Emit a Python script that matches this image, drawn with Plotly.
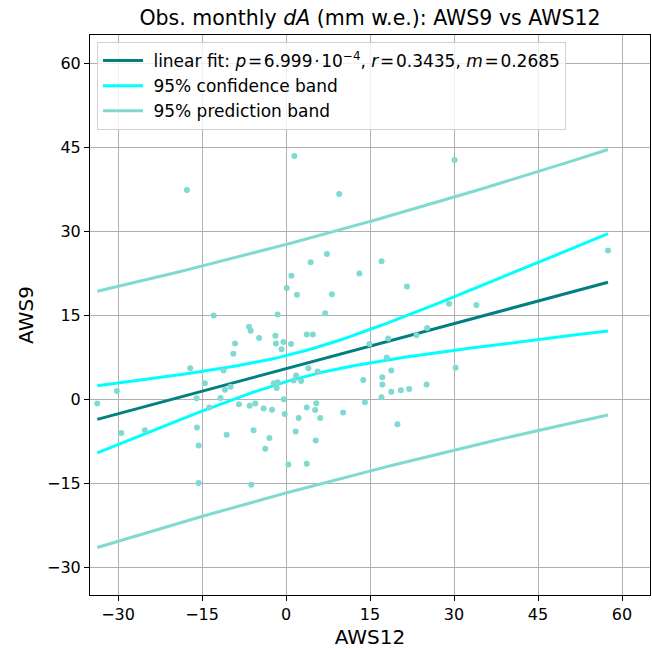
import numpy as np
import plotly.graph_objects as go

# Observed monthly dA (mm w.e.) at the two stations
aws12 = [1.5, -17.7, 9.5, 7.3, 4.4, 0.96, 13.1, 0.12, 1.96, 8.2, 30.1, 17.05, 21.6, 57.5,
         -33.7, -30.2, -29.4, -25.2, -17.1, -12.9, -14.5, -15.96, -13.7, -15.9, -15.6, -15.6,
         -11.15, -10.9, -9.9, -11.7, -10.6, -9.4, -9.1, -6.6, -6.3, -4.8, -8.4, -6.5, -5.5,
         -5.8, -6.2, -4.0, -2.5, -2.96, -3.7, -1.5, -1.9, -1.8, -0.47, -0.8, 0.9, -2.2, -1.5,
         -1.66, -0.4, -0.23, 0.42, 3.7, 3.7, 4.8, 7.0, 4.0, 5.65, 1.8, 1.37, 2.7, 3.7, 5.2,
         5.4, 2.26, 1.73, 6.1, 5.3, 10.2, 13.8, 14.1,
         29.1, 34.0, 14.9, 18.25, 23.3, 25.2, 18.0, 18.8, 17.2, 17.2, 18.8, 20.5, 22.0, 25.1,
         30.3, 17.05, 19.9]
aws9 = [43.4, 37.3, 36.6, 25.9, 24.4, 22.0, 22.4, 19.8, 18.6, 18.7, 42.7, 24.6, 20.1, 26.5,
        -0.8, 1.43, -6.07, -5.6, 5.5, 14.9, 2.8, 0.12, -1.5, -5.1, -8.3, -15.0,
        5.1, 1.67, 2.2, 0.18, -6.4, 8.1, 9.9, 12.9, 12.2, 10.9, -0.95, -1.2, -0.8,
        -5.6, -15.3, -1.7, -1.9, -6.96, -8.9, 15.1, 11.3, 9.9, 10.2, 8.9, 9.8, 2.8, 3.0,
        1.96, -0.06, -2.7, -11.7, -11.55, 11.5, 11.5, 15.3, 5.5, 4.9, 4.2, 3.3, 3.2, -1.5, -1.96,
        -0.77, -3.4, -5.8, -3.4, -7.4, -2.4, 3.4, -0.6,
        17.0, 16.8, 9.8, 10.8, 11.4, 12.7, 7.4, 5.1, 3.9, 2.6, 1.3, 1.55, 1.8, 2.6,
        5.6, 0.3, -4.5]

# Regression statistics
P_VALUE_TEXT = "6.999\u200a·\u200a10<sup>−4</sup>"
R_VALUE = 0.3435
SLOPE = 0.2685
T_CRIT = 1.986  # two-sided 95 % Student t, n - 2 degrees of freedom

tick_vals = [-30, -15, 0, 15, 30, 45, 60]

x = np.array(aws12)
y = np.array(aws9)
n = len(x)
xm = x.mean()
sxx = ((x - xm) ** 2).sum()
intercept = y.mean() - SLOPE * xm
resid = y - (intercept + SLOPE * x)
s = np.sqrt((resid ** 2).sum() / (n - 2))

xf = np.linspace(x.min(), x.max(), 200)
yf = intercept + SLOPE * xf
conf = T_CRIT * s * np.sqrt(1.0 / n + (xf - xm) ** 2 / sxx)
pred = T_CRIT * s * np.sqrt(1.0 + 1.0 / n + (xf - xm) ** 2 / sxx)

FIT_C = "#008080"
CONF_C = "#00ffff"
PRED_C = "rgb(127,218,210)"

EQ = "\u200a=\u200a"  # tight spacing around the equals sign


def band(xv, lo, hi):
    xx = np.concatenate([xv, [np.nan], xv])
    yy = np.concatenate([lo, [np.nan], hi])
    return xx, yy


fig = go.Figure()
fig.add_trace(go.Scatter(
    x=xf, y=yf, mode="lines", line=dict(color=FIT_C, width=3),
    name=(f" linear fit: <i>p</i>{EQ}{P_VALUE_TEXT}, <i>r</i>{EQ}{R_VALUE:.4f}, "
          f"<i>m</i>{EQ}{SLOPE:.4f}")))
bx, by = band(xf, yf - conf, yf + conf)
fig.add_trace(go.Scatter(x=bx, y=by, mode="lines", connectgaps=False,
                         line=dict(color=CONF_C, width=3), name=" 95% confidence band"))
bx, by = band(xf, yf - pred, yf + pred)
fig.add_trace(go.Scatter(x=bx, y=by, mode="lines", connectgaps=False,
                         line=dict(color=PRED_C, width=3), name=" 95% prediction band"))
fig.add_trace(go.Scatter(x=aws12, y=aws9, mode="markers", showlegend=False,
                         marker=dict(color=PRED_C, size=6, line=dict(width=0))))

axis_common = dict(
    range=[-35, 65], tickvals=tick_vals, ticktext=[f"{v}".replace("-", "−") for v in tick_vals],
    showgrid=True, gridcolor="#b0b0b0", gridwidth=1, zeroline=False,
    showline=True, linecolor="black", linewidth=1, mirror=True,
    ticks="outside", ticklen=5, tickcolor="black",
    tickfont=dict(family="DejaVu Sans", size=16, color="black"),
)

fig.update_layout(
    width=652, height=649,
    margin=dict(l=90, r=2, t=35, b=54),
    plot_bgcolor="white", paper_bgcolor="white",
    font=dict(family="DejaVu Sans", color="black"),
    title=dict(text="Obs. monthly <i>dA</i> (mm w.e.): AWS9 vs AWS12",
               x=0.5, xref="paper", xanchor="center",
               y=1 - 18 / 649, yref="container", yanchor="middle",
               font=dict(family="DejaVu Sans", size=20.5, color="black")),
    xaxis=dict(**axis_common, title=dict(text="AWS12", standoff=6,
                                         font=dict(family="DejaVu Sans", size=20))),
    yaxis=dict(**axis_common, title=dict(text="AWS9", standoff=8,
                                         font=dict(family="DejaVu Sans", size=20))),
    legend=dict(x=0.0125, y=0.9875, xanchor="left", yanchor="top",
                bgcolor="rgba(255,255,255,0.8)", bordercolor="#d0d0d0", borderwidth=1,
                font=dict(family="DejaVu Sans", size=17, color="black"),
                tracegroupgap=0, itemwidth=40),
    showlegend=True,
)

fig.write_html("out.html")
